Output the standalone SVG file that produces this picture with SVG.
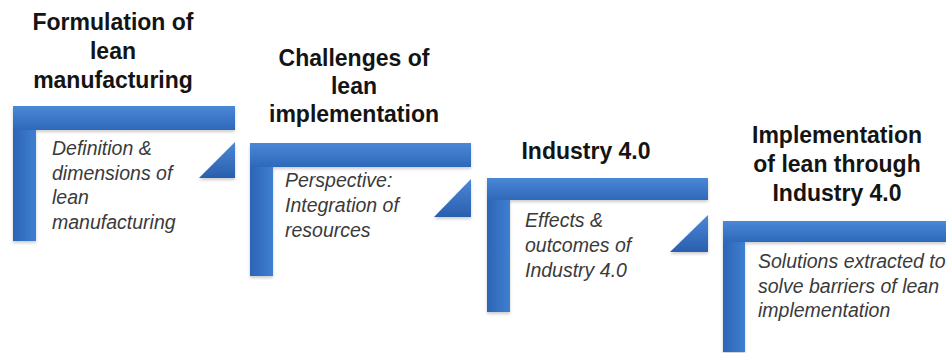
<svg xmlns="http://www.w3.org/2000/svg" width="946" height="353" viewBox="0 0 946 353">
<style>
.title{font-family:"Liberation Sans",Arial,sans-serif;font-weight:bold;font-size:23px;fill:#141414;text-anchor:middle}
.desc{font-family:"Liberation Sans",Arial,sans-serif;font-style:italic;font-size:19.5px;fill:#3a3a3a}
.hbar{fill:url(#gh)}
.vbar{fill:url(#gv)}
.tri{fill:url(#gt)}
</style>
<defs>
<linearGradient id="gh" x1="0" y1="0" x2="0" y2="1">
<stop offset="0" stop-color="#4a88d6"/>
<stop offset="1" stop-color="#2e68ba"/>
</linearGradient>
<linearGradient id="gv" x1="0" y1="0" x2="1" y2="0">
<stop offset="0" stop-color="#2c64b6"/>
<stop offset="1" stop-color="#3f7fd0"/>
</linearGradient>
<linearGradient id="gt" x1="0" y1="0" x2="0" y2="1">
<stop offset="0" stop-color="#4a88d6"/>
<stop offset="1" stop-color="#2a5fae"/>
</linearGradient>
<filter id="sh" x="-10%" y="-10%" width="120%" height="130%">
<feDropShadow dx="0" dy="2" stdDeviation="1.5" flood-color="#000" flood-opacity="0.2"/>
</filter>
</defs>
<rect width="946" height="353" fill="#ffffff"/>

<g id="step1">
<g filter="url(#sh)">
<rect class="vbar" x="13" y="106" width="23" height="135"/>
<rect class="hbar" x="13" y="106" width="222" height="24"/>
<path class="tri" d="M199,178 L235,142 L235,178 Z"/>
</g>
<text class="title" x="113" y="30">Formulation of</text>
<text class="title" x="113" y="59">lean</text>
<text class="title" x="113" y="88">manufacturing</text>
<text class="desc" x="52" y="155">Definition &amp;</text>
<text class="desc" x="52" y="180">dimensions of</text>
<text class="desc" x="52" y="204">lean</text>
<text class="desc" x="52" y="229">manufacturing</text>
</g>

<g id="step2">
<g filter="url(#sh)">
<rect class="vbar" x="250" y="143" width="23" height="133"/>
<rect class="hbar" x="250" y="143" width="221" height="24"/>
<path class="tri" d="M434,217 L471,179 L471,217 Z"/>
</g>
<text class="title" x="354" y="66">Challenges of</text>
<text class="title" x="354" y="94">lean</text>
<text class="title" x="354" y="122">implementation</text>
<text class="desc" x="285" y="187">Perspective:</text>
<text class="desc" x="285" y="212">Integration of</text>
<text class="desc" x="285" y="237">resources</text>
</g>

<g id="step3">
<g filter="url(#sh)">
<rect class="vbar" x="487" y="178" width="23" height="134"/>
<rect class="hbar" x="487" y="178" width="221" height="22"/>
<path class="tri" d="M670,252 L708,215 L708,252 Z"/>
</g>
<text class="title" x="586" y="159">Industry 4.0</text>
<text class="desc" x="525" y="227">Effects &amp;</text>
<text class="desc" x="525" y="252">outcomes of</text>
<text class="desc" x="525" y="277">Industry 4.0</text>
</g>

<g id="step4">
<g filter="url(#sh)">
<rect class="vbar" x="723" y="221" width="22" height="131"/>
<rect class="hbar" x="723" y="221" width="223" height="21"/>
</g>
<text class="title" x="837" y="143">Implementation</text>
<text class="title" x="837" y="172">of lean through</text>
<text class="title" x="837" y="201">Industry 4.0</text>
<text class="desc" x="758" y="268">Solutions extracted to</text>
<text class="desc" x="758" y="293">solve barriers of lean</text>
<text class="desc" x="758" y="317">implementation</text>
</g>

<g id="connectors"></g>
</svg>
